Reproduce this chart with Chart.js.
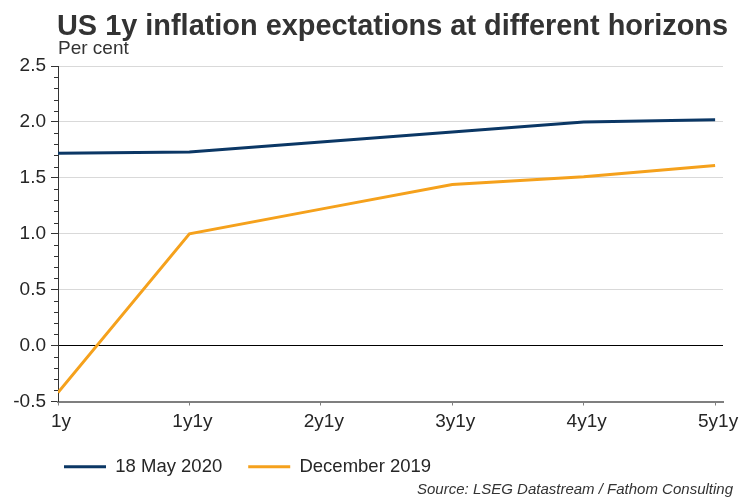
<!DOCTYPE html>
<html><head><meta charset="utf-8">
<script src="https://cdn.jsdelivr.net/npm/chart.js@4"></script>
<style>
html,body{margin:0;padding:0;background:#fff;}
#wrap{position:relative;width:750px;height:500px;overflow:hidden;}
canvas{position:absolute;left:0;top:0;}
.t{position:absolute;font-family:"Liberation Sans",Arial,sans-serif;color:#333;white-space:nowrap;}
#title{left:57px;top:11px;font-size:28.9px;line-height:29px;font-weight:bold;}
#sub{left:58px;top:38px;font-size:19px;line-height:19px;}
#src{right:17px;top:481px;font-size:15px;line-height:15px;font-style:italic;}
</style></head><body>
<div id="wrap"><canvas id="c" width="750" height="500"></canvas>
<div class="t" id="title">US 1y inflation expectations at different horizons</div>
<div class="t" id="sub">Per cent</div>
<div class="t" id="src">Source: LSEG Datastream / Fathom Consulting</div>
</div>
<script>
const categories = ['1y', '1y1y', '2y1y', '3y1y', '4y1y', '5y1y'];
const may2020 = [1.72, 1.73, 1.82, 1.91, 2.00, 2.02];
const dec2019 = [-0.42, 1.00, 1.22, 1.44, 1.51, 1.61];
const seriesNames = ['18 May 2020', 'December 2019'];
const yMin = -0.5, yMax = 2.5, yStep = 0.5;

const NAVY = '#0b3765', ORANGE = '#f5a11c';
Chart.defaults.font.family = '"Liberation Sans", Arial, sans-serif';
Chart.defaults.color = '#262626';

const minorTicks = {
  id: 'minorTicks',
  afterDraw(chart) {
    const y = chart.scales.y, ctx = chart.ctx;
    ctx.save();
    ctx.strokeStyle = '#333';
    ctx.lineWidth = 1;
    const n = Math.round((yMax - yMin) / 0.1);
    for (let k = 0; k <= n; k++) {
      if (k % 5 === 0) continue;
      const py = Math.round(y.getPixelForValue(yMin + k * 0.1)) + 0.5;
      ctx.beginPath();
      ctx.moveTo(y.right - 4, py);
      ctx.lineTo(y.right, py);
      ctx.stroke();
    }
    ctx.restore();
  }
};

const legendShift = {
  id: 'legendShift',
  afterLayout(chart) {
    if (chart.legend) { chart.legend.left = 38; }
  }
};

new Chart(document.getElementById('c'), {
  type: 'line',
  data: {
    datasets: [
      { label: seriesNames[0], data: may2020.map((v, i) => ({x: i, y: v})),
        borderColor: NAVY, backgroundColor: NAVY, borderWidth: 3, pointRadius: 0, tension: 0 },
      { label: seriesNames[1], data: dec2019.map((v, i) => ({x: i, y: v})),
        borderColor: ORANGE, backgroundColor: ORANGE, borderWidth: 3, pointRadius: 0, tension: 0 }
    ]
  },
  options: {
    responsive: false,
    animation: false,
    devicePixelRatio: 1,
    layout: { padding: { left: 4, top: 66, right: 27, bottom: 14 } },
    plugins: {
      legend: {
        position: 'bottom', align: 'start',
        labels: {
          boxWidth: 42, boxHeight: 3, padding: 26, color: '#262626', font: { size: 18.5 },
          generateLabels(chart) {
            const items = Chart.defaults.plugins.legend.labels.generateLabels(chart);
            items.forEach(it => { it.lineWidth = 0; });
            return items;
          }
        }
      },
      tooltip: { enabled: false }
    },
    scales: {
      x: {
        type: 'linear', min: 0, max: 5.06,
        afterFit(s) { s.height = 30; },
        ticks: { stepSize: 1, includeBounds: false, autoSkip: false, maxRotation: 0,
          padding: 5, labelOffset: 3, color: '#262626', font: { size: 19 },
          callback: (v) => categories[v] },
        grid: { drawOnChartArea: false, drawTicks: true, tickLength: 4, tickColor: '#7f7f7f' },
        border: { color: '#7f7f7f', width: 2 }
      },
      y: {
        min: yMin, max: yMax,
        afterFit(s) { s.width = 54; },
        ticks: { stepSize: yStep, padding: 5, color: '#262626', font: { size: 19 },
          callback: (v) => v.toFixed(1) },
        grid: {
          tickLength: 7,
          tickColor: '#333',
          color: (c) => (c.tick && Math.abs(c.tick.value) < 1e-9) ? '#000' : (c.tick && c.tick.value === yMin ? 'rgba(0,0,0,0)' : '#d9d9d9'),
          lineWidth: 1
        },
        border: { color: '#333', width: 1 }
      }
    }
  },
  plugins: [minorTicks, legendShift]
});
</script>
</body></html>
